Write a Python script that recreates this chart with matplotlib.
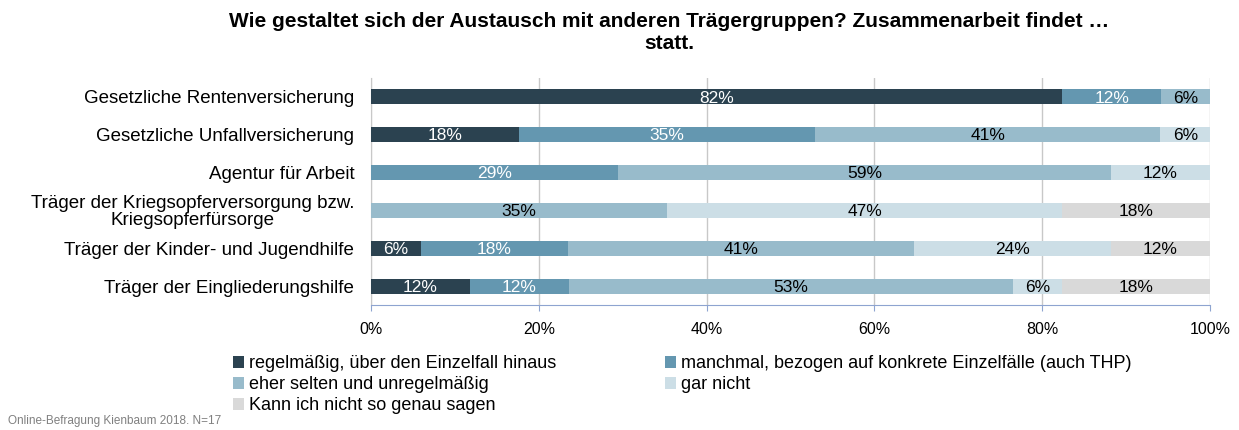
import matplotlib.pyplot as plt
import numpy as np

plt.rcParams['font.family'] = ['Liberation Sans', 'DejaVu Sans']

categories = ['Gesetzliche Rentenversicherung',
              'Gesetzliche Unfallversicherung',
              'Agentur für Arbeit',
              'Träger der Kriegsopferversorgung bzw.\nKriegsopferfürsorge',
              'Träger der Kinder- und Jugendhilfe',
              'Träger der Eingliederungshilfe']
series = ['regelmäßig, über den Einzelfall hinaus',
          'manchmal, bezogen auf konkrete Einzelfälle (auch THP)',
          'eher selten und unregelmäßig',
          'gar nicht',
          'Kann ich nicht so genau sagen']
regelmaessig = [82.4, 17.6, 0, 0, 5.9, 11.8]
manchmal = [11.8, 35.3, 29.4, 0, 17.6, 11.8]
eher_selten = [5.9, 41.2, 58.8, 35.3, 41.2, 52.9]
gar_nicht = [0, 5.9, 11.8, 47.1, 23.5, 5.9]
weiss_nicht = [0, 0, 0, 17.6, 11.8, 17.6]
values = [regelmaessig, manchmal, eher_selten, gar_nicht, weiss_nicht]

colors = ['#2B4250', '#6497B0', '#98BBCB', '#CCDEE6', '#D9D9D9']
text_colors = ['white', 'white', 'black', 'black', 'black']

fig = plt.figure(figsize=(12.39, 4.30), dpi=100)
ax = fig.add_axes([371/1239, 1-305/430, (1210-371)/1239, (305-78)/430])

y = np.arange(len(categories))
left = np.zeros(len(categories))
bars = []
for i, vals in enumerate(values):
    vals = np.array(vals)
    b = ax.barh(y, vals, left=left, height=0.4, color=colors[i], label=series[i], zorder=3)
    bars.append(b)
    for j, v in enumerate(vals):
        if v > 0:
            ax.text(left[j] + v / 2, y[j] + 0.03, '%d%%' % round(v), ha='center', va='center',
                    color=text_colors[i], fontsize=12.5, zorder=4)
    left += vals

ax.set_xlim(0, 100)
ax.set_ylim(len(categories) - 0.5, -0.5)
ax.set_yticks(y)
ax.set_yticklabels(categories, fontsize=13.5, ha='right', linespacing=1.0)
for lbl in ax.get_yticklabels():
    lbl.set_multialignment('center')
ax.set_xticks(np.arange(0, 101, 20))
ax.set_xticklabels(['%d%%' % t for t in range(0, 101, 20)], fontsize=11.5)
ax.tick_params(axis='y', length=0, pad=12)
ax.tick_params(axis='x', length=4, color='#8EA4D0', pad=8)
ax.grid(axis='x', color='#C8C8C8', linewidth=1, zorder=0)
for s in ['top', 'right']:
    ax.spines[s].set_visible(False)
ax.spines['left'].set_color('#C8C8C8')
ax.spines['bottom'].set_color('#8EA4D0')

fig.text(0.54, 0.972, 'Wie gestaltet sich der Austausch mit anderen Trägergruppen? Zusammenarbeit findet …\nstatt.',
         ha='center', va='top', fontsize=15, fontweight='bold', linespacing=1.2)

order = [0, 2, 4, 1, 3]
leg = fig.legend([bars[k] for k in order], [series[k] for k in order], ncol=2,
                 loc='upper left', bbox_to_anchor=(226/1239, 1-348/430), frameon=False,
                 fontsize=13, handlelength=0.6, handleheight=0.6, handletextpad=0.3,
                 columnspacing=6.0, labelspacing=0.22, borderaxespad=0)

fig.text(8/1239, 1-421/430, 'Online-Befragung Kienbaum 2018. N=17', fontsize=8.5,
         color='#808080', va='center')

plt.savefig('out.png', dpi=100)
